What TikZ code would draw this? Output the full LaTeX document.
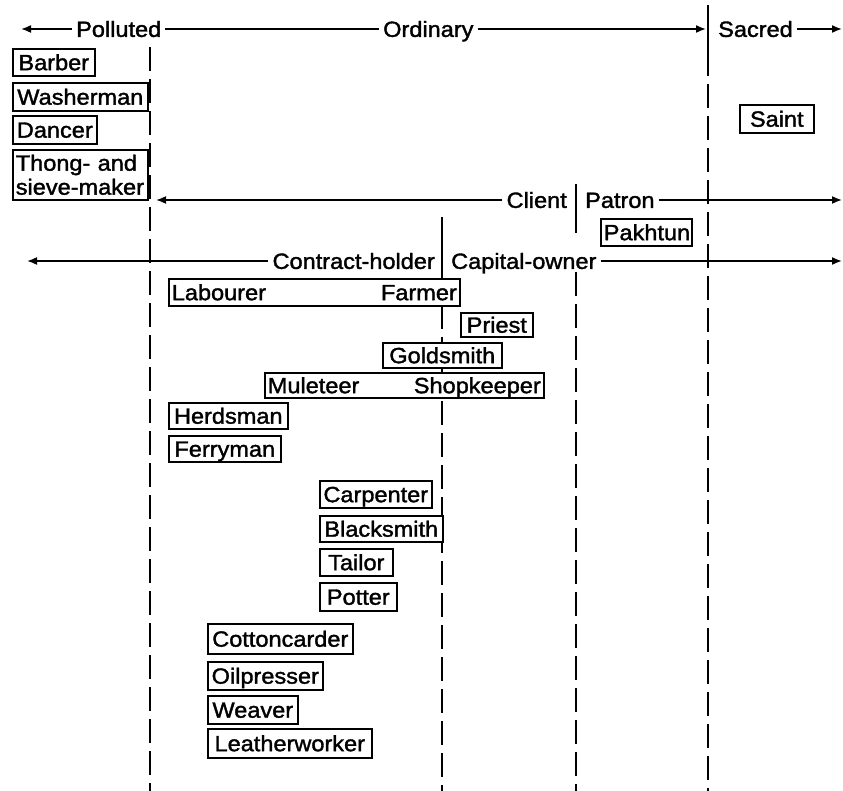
\documentclass[tikz,border=0pt]{standalone}
\usepackage{fontspec}
\setmainfont{Liberation Sans}[FakeStretch=1.07,FakeBold=1.6]
\usetikzlibrary{arrows.meta}
\newcommand\cellfont{\fontsize{22}{24}\selectfont}
\begin{document}
\begin{tikzpicture}[x=1pt,y=-1pt,
  rule/.style={line width=1.6pt},
  arr/.style={rule,-{Latex[length=10pt,width=8pt]}},
  divider/.style={line width=1.8pt,dash pattern=on 24pt off 8pt},
  cell/.style={draw,line width=1.6pt,fill=white,anchor=north west,
    inner xsep=3pt,inner ysep=0pt,font=\cellfont,align=center,
    text height=15.75pt,text depth=0pt},
  tag/.style={font=\cellfont,inner xsep=4pt,inner ysep=0pt,
    text height=15.75pt,text depth=0pt}]
\useasboundingbox (0,0) rectangle (843,791);

% --- vertical dividers ---
\draw[divider] (150,47) -- (150,791);
\draw[rule] (442,217) -- (442,292);
\draw[divider] (442,305) -- (442,791);
\draw[rule] (576,184) -- (576,233);
\draw[divider] (576,272) -- (576,791);
\draw[rule,line width=1.8pt] (708,5) -- (708,76);
\draw[divider] (708,84) -- (708,791);

% --- top scale: Polluted / Ordinary / Sacred ---
\node[tag,anchor=west] (polluted) at (72,29) {Polluted};
\node[tag,anchor=west] (ordinary) at (379,29) {Ordinary};
\node[tag,anchor=west] (sacred) at (714,29) {Sacred};
\coordinate (pollEnd) at (21,29);
\coordinate (ordEnd) at (706,29);
\coordinate (sacEnd) at (842,29);
\draw[arr] (polluted.west) -- (pollEnd);
\draw[rule] (polluted.east) -- (ordinary.west);
\draw[arr] (ordinary.east) -- (ordEnd);
\draw[arr] (sacred.east) -- (sacEnd);

% --- Client / Patron scale ---
\node[tag,anchor=east] (client) at (571,200) {Client};
\node[tag,anchor=west] (patron) at (581,200) {Patron};
\coordinate (cliEnd) at (156,200);
\coordinate (patEnd) at (842,200);
\draw[arr] (client.west) -- (cliEnd);
\draw[arr] (patron.east) -- (patEnd);

% --- Contract-holder / Capital-owner scale ---
\node[tag,anchor=east] (contract) at (439,261) {Contract-holder};
\node[tag,anchor=west] (capital) at (447,261) {Capital-owner};
\coordinate (conEnd) at (27,261);
\coordinate (capEnd) at (842,261);
\draw[arr] (contract.west) -- (conEnd);
\draw[arr] (capital.east) -- (capEnd);

% --- occupations ---
\node[cell,minimum width=82pt,minimum height=27pt,text width=76pt] (barber) at (12,48) {Barber};
\node[cell,minimum width=135pt,minimum height=28pt,text width=129pt] (washerman) at (12,82) {Washerman};
\node[cell,minimum width=84pt,minimum height=28pt,text width=78pt] (dancer) at (12,115) {Dancer};
\node[cell,minimum width=135pt,minimum height=50pt,text width=129pt,
  text height=,text depth=,align=left] (thong) at (12,149) {Thong- and\\sieve-maker};
\node[cell,minimum width=74pt,minimum height=28pt,text width=68pt] (saint) at (739,104) {Saint};
\node[cell,minimum width=91pt,minimum height=27pt,text width=85pt] (pakhtun) at (600,218) {Pakhtun};
\node[cell,minimum width=291pt,minimum height=27pt,text width=285pt] (farmer) at (168,278) {Labourer\hfill Farmer};
\node[cell,minimum width=72pt,minimum height=24pt,text width=66pt] (priest) at (460,312) {Priest};
\node[cell,minimum width=119pt,minimum height=25pt,text width=113pt] (goldsmith) at (382,342) {Goldsmith};
\node[cell,minimum width=279pt,minimum height=25pt,text width=273pt] (shopkeeper) at (264,372) {Muleteer\hfill Shopkeeper};
\node[cell,minimum width=119pt,minimum height=26pt,text width=113pt] (herdsman) at (168,402) {Herdsman};
\node[cell,minimum width=112pt,minimum height=26pt,text width=106pt] (ferryman) at (168,435) {Ferryman};
\node[cell,minimum width=112pt,minimum height=27pt,text width=106pt] (carpenter) at (319,480) {Carpenter};
\node[cell,minimum width=123pt,minimum height=26pt,text width=117pt] (blacksmith) at (319,515) {Blacksmith};
\node[cell,minimum width=73pt,minimum height=27pt,text width=67pt] (tailor) at (319,548) {Tailor};
\node[cell,minimum width=77pt,minimum height=28pt,text width=71pt] (potter) at (319,582) {Potter};
\node[cell,minimum width=145pt,minimum height=30pt,text width=139pt] (cottoncarder) at (207,623) {Cottoncarder};
\node[cell,minimum width=115pt,minimum height=28pt,text width=109pt] (oilpresser) at (207,661) {Oilpresser};
\node[cell,minimum width=90pt,minimum height=28pt,text width=84pt] (weaver) at (207,695) {Weaver};
\node[cell,minimum width=164pt,minimum height=29pt,text width=158pt] (leatherworker) at (207,728) {Leatherworker};
\end{tikzpicture}
\end{document}
